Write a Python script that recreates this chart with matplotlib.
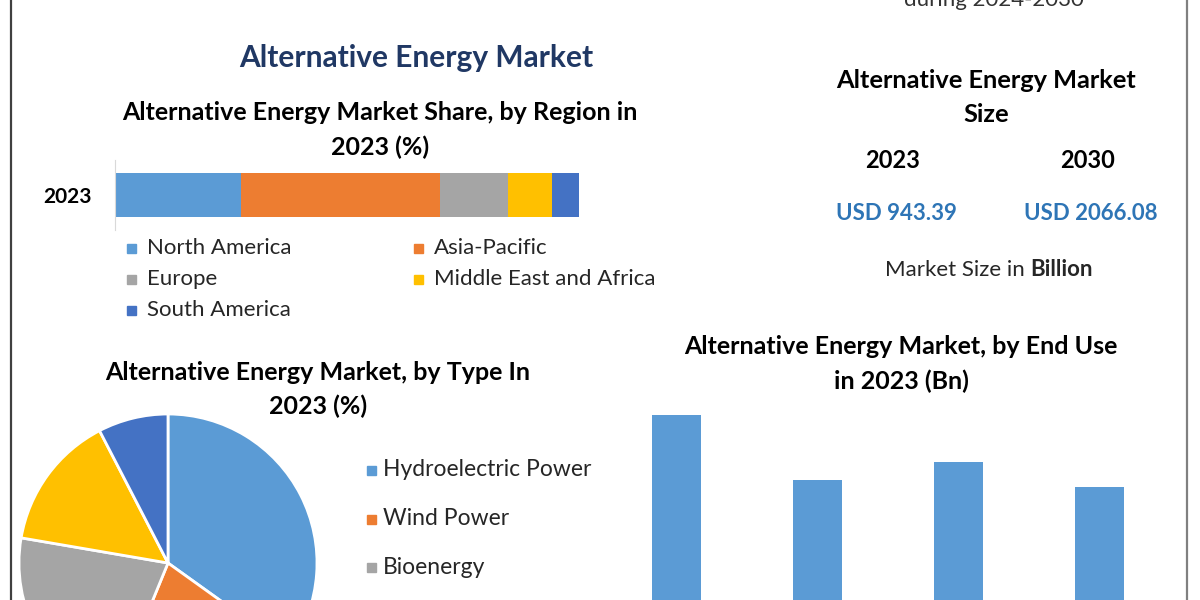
import matplotlib.pyplot as plt
from matplotlib.patches import Rectangle
from matplotlib.lines import Line2D

plt.rcParams['font.family'] = ['Lato', 'DejaVu Sans']

# data
regions = ['North America', 'Asia-Pacific', 'Europe', 'Middle East and Africa', 'South America']
region_share = [27.2, 42.8, 14.7, 9.5, 5.8]
region_colors = ['#5B9BD5', '#ED7D31', '#A5A5A5', '#FFC000', '#4472C4']

types = ['Hydroelectric Power', 'Wind Power', 'Bioenergy', 'Solar Power', 'Geothermal']
type_share = [34.9, 21.3, 21.5, 14.7, 7.6]
type_colors = ['#5B9BD5', '#ED7D31', '#A5A5A5', '#FFC000', '#4472C4']

end_uses = ['Residential', 'Commercial', 'Industrial', 'Others']
end_use_bn = [309, 244, 262, 237]

size_years = ['2023', '2030']
size_values = ['USD 943.39', 'USD 2066.08']

W, H = 1200, 600
fig = plt.figure(figsize=(12, 6), dpi=100)


def fx(x):
    return x / W


def fy(y):
    return 1 - y / H


def txt(x, y, s, **kw):
    kw.setdefault('ha', 'center')
    kw.setdefault('va', 'center')
    fig.text(fx(x), fy(y), s, **kw)


# frame lines
fig.add_artist(Line2D([fx(11), fx(11)], [0, 1], color='#404040', lw=1.6))
fig.add_artist(Line2D([fx(1187), fx(1187)], [0, 1], color='#808080', lw=1.6))

txt(994, 6, 'during 2024-2030', va='baseline', fontsize=16, color='#333333')
txt(416, 58, 'Alternative Energy Market', fontsize=21.5, fontweight='bold', color='#203864')

# region share stacked bar
txt(380, 112, 'Alternative Energy Market Share, by Region in', fontsize=18, fontweight='bold')
txt(380, 147, '2023 (%)', fontsize=18, fontweight='bold')

ax1 = fig.add_axes([fx(115), fy(230), fx(464), 70 / H])
left = 0
for v, c in zip(region_share, region_colors):
    ax1.barh(0, v, left=left, height=44 / 70, color=c)
    left += v
ax1.set_xlim(0, sum(region_share))
ax1.set_ylim(-0.5, 0.5)
ax1.set_yticks([0], ['2023'], fontsize=15, fontweight='bold')
ax1.tick_params(axis='y', length=0, pad=17)
ax1.set_xticks([])
for s in ['top', 'right', 'bottom']:
    ax1.spines[s].set_visible(False)
ax1.spines['left'].set_color('#D9D9D9')

for i, (name, c) in enumerate(zip(regions, region_colors)):
    x0 = 127 + (i % 2) * 287
    y0 = 248 + (i // 2) * 31
    fig.add_artist(Rectangle((fx(x0), fy(y0 + 5)), fx(9), 9 / H, color=c))
    txt(x0 + 20, y0, name, ha='left', fontsize=16, color='#262626')

# market size panel
txt(986, 80, 'Alternative Energy Market', fontsize=18.3, fontweight='bold')
txt(986, 115, 'Size', fontsize=18.3, fontweight='bold')
for xc, yr, val in zip([893, 1088], size_years, size_values):
    txt(xc, 161, yr, fontsize=17, fontweight='bold')
    txt(xc + 3, 213, val, fontsize=16, fontweight='bold', color='#2E75B6')
txt(1025, 270, 'Market Size in', ha='right', fontsize=16, color='#262626')
txt(1030, 270, 'Billion', ha='left', fontsize=16, fontweight='bold', color='#262626')

# type pie
txt(318, 372, 'Alternative Energy Market, by Type In', fontsize=18, fontweight='bold')
txt(318, 406, '2023 (%)', fontsize=18, fontweight='bold')
r = 149
ax2 = fig.add_axes([fx(168 - r), fy(563 + r), fx(2 * r), 2 * r / H])
ax2.pie(type_share, colors=type_colors, startangle=90, counterclock=False,
        wedgeprops={'edgecolor': 'white', 'linewidth': 2})
ax2.set_xlim(-1, 1)
ax2.set_ylim(-1, 1)
# only the first three legend rows fit inside the picture
for i, (name, c) in enumerate(zip(types[:3], type_colors)):
    y0 = 470 + i * 48.5
    fig.add_artist(Rectangle((fx(367), fy(y0 + 5)), fx(9), 9 / H, color=c))
    txt(383, y0, name, ha='left', fontsize=16.5, color='#262626')

# end use bars
txt(901, 346, 'Alternative Energy Market, by End Use', fontsize=18, fontweight='bold')
txt(901, 381, 'in 2023 (Bn)', fontsize=18, fontweight='bold')
ax3 = fig.add_axes([fx(606.6), fy(724), fx(563), 324 / H])
ax3.bar(range(len(end_uses)), end_use_bn, width=49 / 140.8, color='#5B9BD5')
ax3.set_xlim(-0.5, 3.5)
ax3.set_ylim(0, 324)
ax3.set_xticks([])
ax3.set_yticks([])
for s in ax3.spines.values():
    s.set_visible(False)

fig.savefig('out.png', dpi=100)
